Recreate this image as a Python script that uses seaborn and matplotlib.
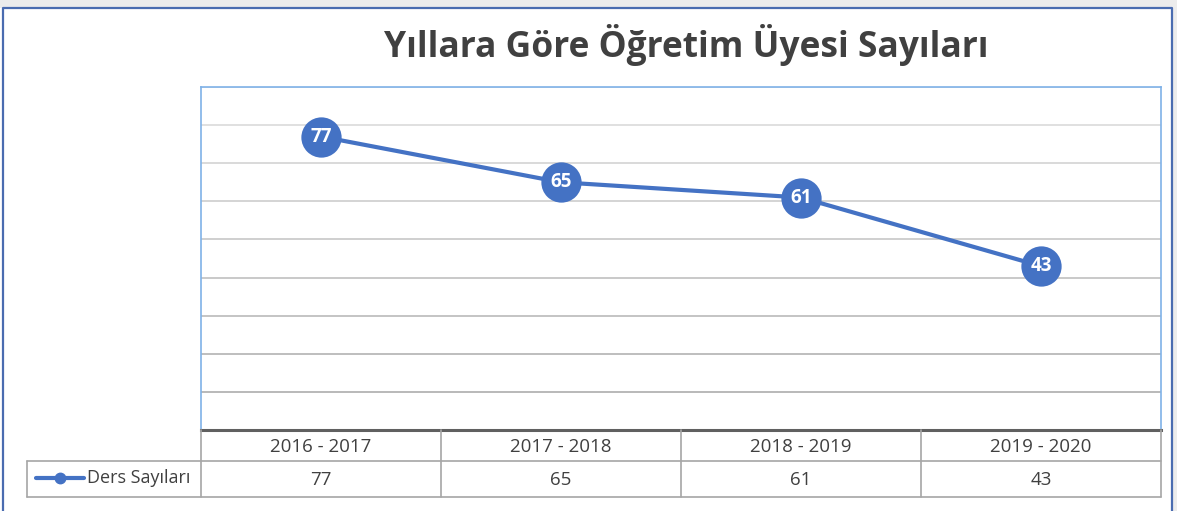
import matplotlib
matplotlib.use("Agg")
import matplotlib.pyplot as plt
import seaborn as sns
import pandas as pd
import numpy as np
from matplotlib.lines import Line2D
from matplotlib.patches import Rectangle

categories = ["2016 - 2017", "2017 - 2018", "2018 - 2019", "2019 - 2020"]
values = [77, 65, 61, 43]
series_name = "Ders Sayıları"
title = "Yıllara Göre Öğretim Üyesi Sayıları"

df = pd.DataFrame({"Yıl": categories, series_name: values})

sns.set_theme(style="white")
plt.rcParams["font.family"] = ["Open Sans", "DejaVu Sans"]

W, H = 1177, 511
fig = plt.figure(figsize=(W / 100, H / 100), dpi=100)
fig.patch.set_facecolor("white")

def fx(px):
    return px / W

def fy(py):
    return 1 - py / H

# screenshot background strip and chart frame
fig.add_artist(Rectangle((0, fy(8)), 1, 8 / H, transform=fig.transFigure,
                         facecolor="#ececec", edgecolor="none", zorder=0))
fig.add_artist(Rectangle((fx(1173), 0), 4 / W, 1, transform=fig.transFigure,
                         facecolor="#ececec", edgecolor="none", zorder=0))
fig.add_artist(Line2D([fx(3), fx(3), fx(1172), fx(1172)], [0, fy(8.5), fy(8.5), 0],
                      transform=fig.transFigure, color="#4a6cb0", lw=1.6, zorder=1))

left, right, top, bottom = 201, 1161, 87, 430
ax = fig.add_axes([fx(left), fy(bottom), fx(right - left), (bottom - top) / H])

sns.lineplot(data=df, x="Yıl", y=series_name, ax=ax, color="#4472c4", lw=3,
             marker="o", markersize=29, markeredgewidth=0, sort=False)
ax.set_xlim(-0.5, len(categories) - 0.5)
ax.set_ylim(0, 90)
ax.set_yticks(np.arange(0, 91, 10))
ax.set_xlabel("")
ax.set_ylabel("")
ax.set_xticklabels([])
ax.set_yticklabels([])
ax.tick_params(length=0)
ax.grid(True, axis="y")
gl = ax.yaxis.get_gridlines()
shades = np.linspace(0.68, 0.89, len(gl))
for line, s in zip(gl, shades):
    line.set_color(str(s))
    line.set_linewidth(1.3)
for name in ("top", "left", "right"):
    ax.spines[name].set_color("#7fb2e8")
    ax.spines[name].set_linewidth(1.2)
ax.spines["bottom"].set_color("#606060")
ax.spines["bottom"].set_linewidth(2.2)
ax.spines["bottom"].set_zorder(5)

for i, v in enumerate(values):
    ax.text(i, v, str(v), ha="center", va="center", color="white",
            fontsize=13.5, fontweight="bold", zorder=10)

fig.text(fx(686), fy(45), title, ha="center", va="center", fontsize=25.5,
         fontweight="bold", color="#404040")

# data table
grid_c = "#a6a6a6"
hdr_top, hdr_bot, row_bot = 430, 461, 496.5
col_w = (right - left) / len(categories)
tl = lambda xs, ys, **kw: fig.add_artist(Line2D([fx(x) for x in xs], [fy(y) for y in ys],
                                                transform=fig.transFigure, **kw))
for i in range(len(categories) + 1):
    x = left + i * col_w
    tl([x, x], [hdr_top, row_bot], color=grid_c, lw=1.2)
tl([27, 27], [hdr_bot, row_bot], color=grid_c, lw=1.2)
tl([27, right], [hdr_bot, hdr_bot], color=grid_c, lw=1.2)
tl([27, right], [row_bot, row_bot], color=grid_c, lw=1.2)
for i, (c, v) in enumerate(zip(categories, values)):
    cx = left + (i + 0.5) * col_w
    fig.text(fx(cx), fy((hdr_top + hdr_bot) / 2 + 1), c, ha="center", va="center",
             fontsize=13.5, color="#404040")
    fig.text(fx(cx), fy((hdr_bot + row_bot) / 2 + 1), str(v), ha="center", va="center",
             fontsize=13.5, color="#404040")
tl([36, 84], [478, 478], color="#4472c4", lw=3)
tl([60], [478], color="#4472c4", marker="o", markersize=7.5, lw=0)
fig.text(fx(87), fy(478), series_name, ha="left", va="center", fontsize=13,
         color="#404040")

fig.savefig("out.png", dpi=100)
